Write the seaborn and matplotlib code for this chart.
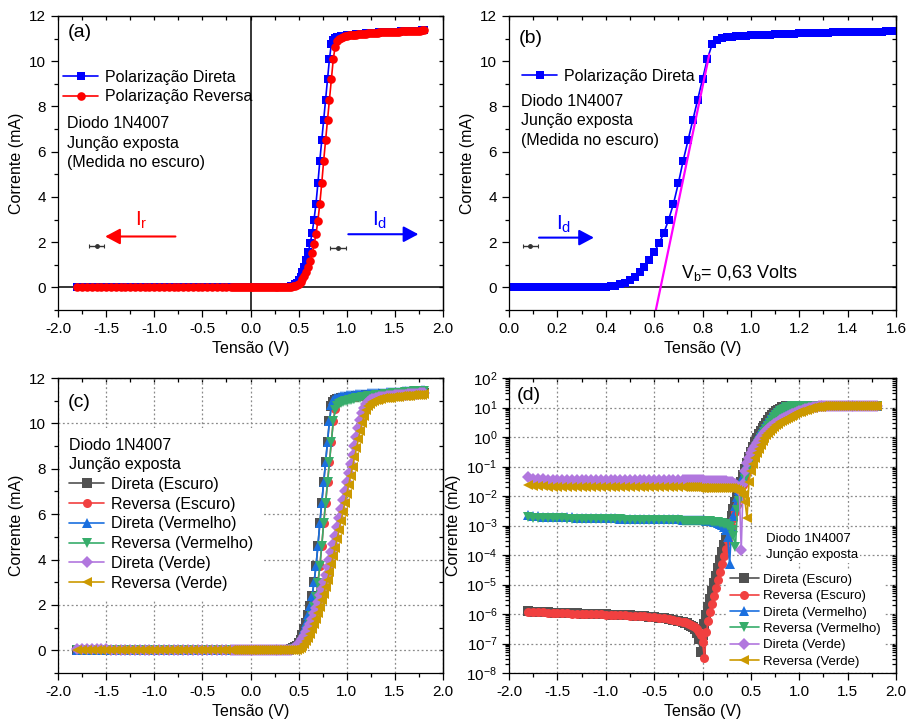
import numpy as np
import pandas as pd
import matplotlib
matplotlib.use("Agg")
import matplotlib.pyplot as plt
from matplotlib.ticker import MultipleLocator, FormatStrFormatter, LogLocator, NullFormatter
import seaborn as sns

# tensão (V) -- mesma varredura para todas as curvas
volts = [
    -1.80, -1.75, -1.70, -1.65, -1.60, -1.55, -1.50, -1.45, -1.40, -1.35,
    -1.30, -1.25, -1.20, -1.15, -1.10, -1.05, -1.00, -0.95, -0.90, -0.85,
    -0.80, -0.75, -0.70, -0.65, -0.60, -0.55, -0.50, -0.45, -0.40, -0.35,
    -0.30, -0.25, -0.20,
    -0.18, -0.16, -0.14, -0.12, -0.10, -0.08, -0.06, -0.04, -0.02, 0.00,
    0.02, 0.04, 0.06, 0.08, 0.10, 0.12, 0.14, 0.16, 0.18, 0.20,
    0.22, 0.24, 0.26, 0.28, 0.30, 0.32, 0.34, 0.36, 0.38, 0.40,
    0.42, 0.44, 0.46, 0.48, 0.50, 0.52, 0.54, 0.56, 0.58, 0.60,
    0.62, 0.64, 0.66, 0.68, 0.70, 0.72, 0.74, 0.76, 0.78, 0.80,
    0.82, 0.84, 0.86, 0.88, 0.90, 0.92, 0.94, 0.96, 0.98, 1.00,
    1.02, 1.04, 1.06, 1.08, 1.10, 1.12, 1.14, 1.16, 1.18, 1.20,
    1.22, 1.24, 1.26, 1.28, 1.30, 1.32, 1.34, 1.36, 1.38, 1.40,
    1.42, 1.44, 1.46, 1.48, 1.50, 1.52, 1.54, 1.56, 1.58, 1.60,
    1.62, 1.64, 1.66, 1.68, 1.70, 1.72, 1.74, 1.76, 1.78, 1.80,
]

# |corrente| (mA)
dir_escuro = [
    1.25e-6, 1.20e-6, 1.18e-6, 1.16e-6, 1.14e-6, 1.12e-6, 1.10e-6, 1.09e-6, 1.07e-6, 1.06e-6,
    1.05e-6, 1.04e-6, 1.02e-6, 1.01e-6, 1.00e-6, 9.9e-7, 9.8e-7, 9.6e-7, 9.5e-7, 9.4e-7,
    9.2e-7, 9.0e-7, 8.8e-7, 8.6e-7, 8.4e-7, 8.1e-7, 7.8e-7, 7.5e-7, 7.2e-7, 6.8e-7,
    6.4e-7, 5.9e-7, 5.4e-7,
    5.1e-7, 4.8e-7, 4.4e-7, 4.0e-7, 3.5e-7, 3.0e-7, 2.3e-7, 1.4e-7, 5.0e-8, 2.0e-7,
    4.5e-7, 9.0e-7, 1.7e-6, 3.2e-6, 6.0e-6, 1.1e-5, 2.0e-5, 3.7e-5, 6.8e-5, 1.25e-4,
    2.2e-4, 3.9e-4, 6.8e-4, 1.2e-3, 2.1e-3, 3.6e-3, 6.2e-3, 0.0105, 0.018, 0.030,
    0.050, 0.083, 0.135, 0.21, 0.32, 0.47, 0.67, 0.92, 1.22, 1.55,
    1.95, 2.40, 3.00, 3.70, 4.60, 5.60, 6.50, 7.40, 8.30, 9.20,
    10.10, 10.75, 10.95, 11.02, 11.06, 11.08, 11.10, 11.11, 11.13, 11.14,
    11.15, 11.16, 11.17, 11.18, 11.19, 11.20, 11.20, 11.21, 11.22, 11.23,
    11.23, 11.24, 11.25, 11.25, 11.26, 11.26, 11.27, 11.27, 11.28, 11.28,
    11.29, 11.29, 11.30, 11.30, 11.31, 11.31, 11.31, 11.32, 11.32, 11.33,
    11.33, 11.33, 11.34, 11.34, 11.34, 11.35, 11.35, 11.35, 11.36, 11.36,
]
rev_escuro = [
    1.20e-6, 1.17e-6, 1.15e-6, 1.13e-6, 1.11e-6, 1.09e-6, 1.08e-6, 1.06e-6, 1.05e-6, 1.04e-6,
    1.03e-6, 1.02e-6, 1.00e-6, 9.9e-7, 9.8e-7, 9.7e-7, 9.6e-7, 9.5e-7, 9.4e-7, 9.3e-7,
    9.1e-7, 8.9e-7, 8.7e-7, 8.5e-7, 8.3e-7, 8.0e-7, 7.7e-7, 7.4e-7, 7.1e-7, 6.8e-7,
    6.4e-7, 5.9e-7, 5.4e-7,
    5.2e-7, 4.9e-7, 4.6e-7, 4.3e-7, 3.9e-7, 3.5e-7, 3.0e-7, 2.5e-7, 1.9e-7, 1.1e-7,
    3.3e-8, 2.4e-7, 6.0e-7, 1.2e-6, 2.2e-6, 4.0e-6, 7.5e-6, 1.4e-5, 2.6e-5, 4.8e-5,
    9.0e-5, 1.6e-4, 2.9e-4, 5.2e-4, 9.0e-4, 1.6e-3, 2.8e-3, 4.8e-3, 8.3e-3, 0.014,
    0.024, 0.040, 0.066, 0.105, 0.16, 0.24, 0.35, 0.50, 0.68, 0.90,
    1.18, 1.50, 1.90, 2.35, 2.95, 3.70, 4.60, 5.60, 6.50, 7.40,
    8.30, 9.20, 10.10, 10.65, 10.88, 10.98, 11.03, 11.07, 11.10, 11.12,
    11.14, 11.15, 11.16, 11.17, 11.18, 11.19, 11.20, 11.20, 11.21, 11.22,
    11.23, 11.24, 11.25, 11.25, 11.26, 11.26, 11.27, 11.27, 11.28, 11.28,
    11.29, 11.29, 11.30, 11.30, 11.31, 11.31, 11.31, 11.32, 11.32, 11.33,
    11.33, 11.33, 11.34, 11.34, 11.34, 11.35, 11.35, 11.35, 11.36, 11.36,
]
dir_vermelho = [
    2.20e-3, 2.10e-3, 2.05e-3, 2.00e-3, 1.98e-3, 1.96e-3, 1.94e-3, 1.92e-3, 1.90e-3, 1.88e-3,
    1.86e-3, 1.84e-3, 1.82e-3, 1.80e-3, 1.79e-3, 1.78e-3, 1.76e-3, 1.75e-3, 1.74e-3, 1.72e-3,
    1.71e-3, 1.70e-3, 1.69e-3, 1.68e-3, 1.67e-3, 1.66e-3, 1.65e-3, 1.64e-3, 1.63e-3, 1.62e-3,
    1.61e-3, 1.60e-3, 1.59e-3,
    1.58e-3, 1.57e-3, 1.57e-3, 1.56e-3, 1.55e-3, 1.54e-3, 1.53e-3, 1.52e-3, 1.51e-3, 1.50e-3,
    1.49e-3, 1.47e-3, 1.45e-3, 1.42e-3, 1.38e-3, 1.33e-3, 1.27e-3, 1.20e-3, 1.12e-3, 1.02e-3,
    8.8e-4, 7.0e-4, 4.2e-4, 5.0e-5, 8.0e-4, 2.1e-3, 4.7e-3, 9.0e-3, 0.0165, 0.0285,
    0.0485, 0.081, 0.133, 0.21, 0.32, 0.47, 0.67, 0.92, 1.22, 1.55,
    1.95, 2.40, 3.00, 3.70, 4.60, 5.60, 6.50, 7.40, 8.30, 9.20,
    10.10, 10.80, 11.02, 11.10, 11.14, 11.17, 11.19, 11.20, 11.22, 11.23,
    11.24, 11.25, 11.26, 11.27, 11.28, 11.29, 11.29, 11.30, 11.31, 11.31,
    11.32, 11.32, 11.33, 11.33, 11.34, 11.34, 11.35, 11.35, 11.36, 11.36,
    11.37, 11.37, 11.38, 11.38, 11.39, 11.39, 11.40, 11.40, 11.41, 11.41,
    11.42, 11.42, 11.43, 11.43, 11.44, 11.44, 11.45, 11.45, 11.46, 11.46,
]
rev_vermelho = [
    1.90e-3, 1.85e-3, 1.82e-3, 1.80e-3, 1.78e-3, 1.76e-3, 1.75e-3, 1.73e-3, 1.72e-3, 1.70e-3,
    1.69e-3, 1.68e-3, 1.67e-3, 1.66e-3, 1.65e-3, 1.64e-3, 1.63e-3, 1.62e-3, 1.61e-3, 1.60e-3,
    1.59e-3, 1.58e-3, 1.57e-3, 1.56e-3, 1.55e-3, 1.54e-3, 1.53e-3, 1.52e-3, 1.51e-3, 1.50e-3,
    1.49e-3, 1.48e-3, 1.47e-3,
    1.46e-3, 1.46e-3, 1.45e-3, 1.45e-3, 1.44e-3, 1.44e-3, 1.43e-3, 1.42e-3, 1.42e-3, 1.41e-3,
    1.40e-3, 1.39e-3, 1.38e-3, 1.37e-3, 1.35e-3, 1.33e-3, 1.31e-3, 1.28e-3, 1.25e-3, 1.21e-3,
    1.16e-3, 1.09e-3, 1.00e-3, 8.8e-4, 7.2e-4, 4.5e-4, 1.8e-4, 3.4e-3, 6.9e-3, 0.0127,
    0.0227, 0.0387, 0.065, 0.104, 0.16, 0.24, 0.35, 0.50, 0.68, 0.90,
    1.18, 1.50, 1.90, 2.35, 2.95, 3.70, 4.60, 5.60, 6.50, 7.40,
    8.30, 9.20, 10.10, 10.60, 10.75, 10.85, 10.90, 10.94, 10.97, 11.00,
    11.02, 11.04, 11.06, 11.08, 11.10, 11.12, 11.14, 11.15, 11.17, 11.18,
    11.19, 11.20, 11.21, 11.22, 11.23, 11.24, 11.25, 11.26, 11.27, 11.28,
    11.29, 11.30, 11.31, 11.32, 11.33, 11.34, 11.34, 11.35, 11.36, 11.37,
    11.38, 11.38, 11.39, 11.40, 11.41, 11.41, 11.42, 11.43, 11.43, 11.44,
]
dir_verde = [
    0.043, 0.039, 0.037, 0.0365, 0.036, 0.036, 0.0358, 0.0356, 0.0355, 0.0354,
    0.0353, 0.0352, 0.0351, 0.0350, 0.0350, 0.0349, 0.0348, 0.0348, 0.0347, 0.0347,
    0.0346, 0.0346, 0.0345, 0.0345, 0.0344, 0.0344, 0.0343, 0.0343, 0.0342, 0.0342,
    0.0341, 0.0341, 0.0340,
    0.0340, 0.0340, 0.0340, 0.0339, 0.0339, 0.0338, 0.0338, 0.0337, 0.0337, 0.0336,
    0.0335, 0.0335, 0.0334, 0.0333, 0.0332, 0.0331, 0.0330, 0.0328, 0.0326, 0.0323,
    0.0320, 0.0315, 0.0310, 0.0302, 0.0290, 0.0275, 0.0252, 0.0220, 0.0165, 1.5e-4,
    0.025, 0.070, 0.130, 0.20, 0.29, 0.39, 0.50, 0.64, 0.80, 0.98,
    1.18, 1.40, 1.63, 1.88, 2.15, 2.43, 2.72, 3.02, 3.33, 3.65,
    3.98, 4.32, 4.68, 5.05, 5.43, 5.82, 6.22, 6.62, 7.02, 7.42,
    7.82, 8.22, 8.62, 9.02, 9.42, 9.80, 10.15, 10.45, 10.70, 10.86,
    10.96, 11.02, 11.06, 11.09, 11.11, 11.13, 11.15, 11.16, 11.17, 11.18,
    11.19, 11.20, 11.21, 11.22, 11.23, 11.24, 11.25, 11.25, 11.26, 11.27,
    11.27, 11.28, 11.29, 11.29, 11.30, 11.30, 11.31, 11.32, 11.32, 11.33,
]
rev_verde = [
    0.0235, 0.0220, 0.0215, 0.0212, 0.0210, 0.0209, 0.0208, 0.0207, 0.0206, 0.0206,
    0.0205, 0.0205, 0.0204, 0.0204, 0.0203, 0.0203, 0.0202, 0.0202, 0.0201, 0.0201,
    0.0200, 0.0200, 0.0200, 0.0199, 0.0199, 0.0199, 0.0198, 0.0198, 0.0198, 0.0197,
    0.0197, 0.0197, 0.0196,
    0.0196, 0.0196, 0.0196, 0.0195, 0.0195, 0.0195, 0.0195, 0.0194, 0.0194, 0.0194,
    0.0194, 0.0193, 0.0193, 0.0193, 0.0192, 0.0192, 0.0191, 0.0191, 0.0190, 0.0189,
    0.0188, 0.0187, 0.0185, 0.0183, 0.0180, 0.0176, 0.0170, 0.0162, 0.0150, 0.0133,
    0.0105, 0.0062, 1.8e-3, 0.030, 0.070, 0.12, 0.19, 0.28, 0.40, 0.55,
    0.72, 0.92, 1.14, 1.38, 1.64, 1.92, 2.20, 2.50, 2.80, 3.12,
    3.45, 3.80, 4.16, 4.53, 4.91, 5.30, 5.70, 6.10, 6.50, 6.90,
    7.30, 7.70, 8.10, 8.50, 8.90, 9.30, 9.68, 10.02, 10.32, 10.57,
    10.75, 10.87, 10.95, 11.00, 11.03, 11.05, 11.07, 11.09, 11.10, 11.11,
    11.12, 11.13, 11.14, 11.15, 11.16, 11.17, 11.18, 11.19, 11.20, 11.20,
    11.21, 11.22, 11.22, 11.23, 11.24, 11.24, 11.25, 11.26, 11.27, 11.28,
]

curve_names = ["Direta (Escuro)", "Reversa (Escuro)", "Direta (Vermelho)",
               "Reversa (Vermelho)", "Direta (Verde)", "Reversa (Verde)"]
curve_colors = ["#515151", "#F14040", "#1A6FDF", "#37AD6B", "#B177DE", "#CC9900"]
curve_markers = ["s", "o", "^", "v", "D", "<"]

# reta de ajuste para V_b (painel b)
fit_v = [0.607, 0.828]
fit_i = [-1.0, 10.3]

# pequenas barras de erro desenhadas nos paineis (a) e (b)
err_a_v = [-1.60, 0.91]
err_a_i = [1.85, 1.76]
err_b_v = [0.087]
err_b_i = [1.81]

series = [dir_escuro, rev_escuro, dir_vermelho, rev_vermelho, dir_verde, rev_verde]
for s in series:
    assert len(s) == len(volts), len(s)

df = pd.DataFrame({
    "V": np.tile(volts, len(series)),
    "I": np.concatenate(series),
    "curva": np.repeat(curve_names, len(volts)),
})

sns.set_theme(style="ticks")
plt.rcParams["font.family"] = ["Liberation Sans", "DejaVu Sans"]
plt.rcParams["mathtext.fontset"] = "custom"
plt.rcParams["mathtext.rm"] = "Liberation Sans"
plt.rcParams["mathtext.it"] = "Liberation Sans"
plt.rcParams["axes.unicode_minus"] = False
plt.rcParams["axes.edgecolor"] = "black"
plt.rcParams["axes.linewidth"] = 0.9
plt.rcParams["text.color"] = "black"
plt.rcParams["axes.labelcolor"] = "black"
plt.rcParams["xtick.color"] = "black"
plt.rcParams["ytick.color"] = "black"

fig = plt.figure(figsize=(9.08, 7.26), dpi=100)
ax_a = fig.add_axes([0.0639, 0.573, 0.424, 0.405])
ax_b = fig.add_axes([0.5606, 0.573, 0.4262, 0.405])
ax_c = fig.add_axes([0.0639, 0.073, 0.424, 0.4063])
ax_d = fig.add_axes([0.5606, 0.073, 0.4262, 0.4063])


def frame(ax, xlim, xstep, xminor, log=False):
    ax.set_xlim(*xlim)
    ax.xaxis.set_major_locator(MultipleLocator(xstep))
    ax.xaxis.set_minor_locator(MultipleLocator(xminor))
    ax.xaxis.set_major_formatter(FormatStrFormatter("%.1f"))
    if log:
        ax.set_yscale("log")
        ax.set_ylim(1e-8, 1e2)
        ax.yaxis.set_major_locator(LogLocator(base=10, numticks=20))
        ax.yaxis.set_minor_locator(LogLocator(base=10, subs=np.arange(2, 10), numticks=20))
        ax.yaxis.set_minor_formatter(NullFormatter())
    else:
        ax.set_ylim(-1, 12)
        ax.yaxis.set_major_locator(MultipleLocator(2))
        ax.yaxis.set_minor_locator(MultipleLocator(1))
    ax.tick_params(which="both", direction="out", labelsize=11, width=0.9)
    ax.tick_params(which="major", length=5)
    ax.tick_params(which="minor", length=3)
    top = ax.secondary_xaxis("top")
    top.xaxis.set_major_locator(MultipleLocator(xstep))
    top.xaxis.set_minor_locator(MultipleLocator(xminor))
    top.tick_params(which="both", direction="in", length=3, width=0.9, labeltop=False)
    right = ax.secondary_yaxis("right")
    if log:
        right.yaxis.set_major_locator(LogLocator(base=10, numticks=20))
        right.yaxis.set_minor_locator(LogLocator(base=10, subs=np.arange(2, 10), numticks=20))
    else:
        right.yaxis.set_major_locator(MultipleLocator(2))
        right.yaxis.set_minor_locator(MultipleLocator(1))
    right.tick_params(which="both", direction="in", length=3, width=0.9, labelright=False)
    ax.set_xlabel("Tensão (V)", fontsize=11.5)
    ax.set_ylabel("Corrente (mA)", fontsize=11.5)


def errmark(ax, v, i, half):
    ax.errorbar(v, i, xerr=half, fmt="o", ms=2.5, color="#333333",
                elinewidth=1.0, capsize=1.5, capthick=0.8, zorder=4)


def arrow(ax, tail, tip, color):
    ax.annotate("", xy=tip, xytext=tail,
                arrowprops=dict(arrowstyle="-|>,head_length=0.6,head_width=0.32",
                                color=color, lw=1.5, mutation_scale=15,
                                shrinkA=0, shrinkB=0))


# (a) ------------------------------------------------------------
ax = ax_a
ax.axhline(0, color="black", lw=1.1, zorder=1)
ax.axvline(0, color="black", lw=1.1, zorder=1)
sns.lineplot(x=volts, y=dir_escuro, ax=ax, color="#0000FF", marker="s", markersize=5.4,
             markeredgewidth=0, linewidth=1.2, sort=False, estimator=None)
sns.lineplot(x=volts, y=rev_escuro, ax=ax, color="#FF0000", marker="o", markersize=6.2,
             markeredgewidth=0, linewidth=1.2, sort=False, estimator=None)
frame(ax, (-2, 2), 0.5, 0.25)
ax.legend(ax.lines[-2:], ["Polarização Direta", "Polarização Reversa"],
          loc="upper left", bbox_to_anchor=(0.013, 0.817), frameon=False, fontsize=11.5,
          borderpad=0, borderaxespad=0, handlelength=2.2, handletextpad=0.4,
          labelspacing=0.29)
ax.text(0.026, 0.972, "(a)", transform=ax.transAxes, fontsize=14, va="top")
ax.text(0.023, 0.659, "Diodo 1N4007\nJunção exposta\n(Medida no escuro)",
        transform=ax.transAxes, fontsize=11.5, va="top", linespacing=1.36)
arrow(ax, (-0.78, 2.25), (-1.51, 2.25), "#FF0000")
arrow(ax, (1.016, 2.35), (1.744, 2.35), "#0000FF")
ax.text(-1.13, 2.95, r"$\mathregular{I_r}$", color="#FF0000", fontsize=15, ha="center", va="center")
ax.text(1.346, 2.95, r"$\mathregular{I_d}$", color="#0000FF", fontsize=15, ha="center", va="center")
errmark(ax, err_a_v, err_a_i, 0.08)

# (b) ------------------------------------------------------------
ax = ax_b
ax.axhline(0, color="black", lw=1.1, zorder=1)
sns.lineplot(x=volts, y=dir_escuro, ax=ax, color="#0000FF", marker="s", markersize=5.8,
             markeredgewidth=0, linewidth=1.2, sort=False, estimator=None)
blue_b = ax.lines[-1]
sns.lineplot(x=fit_v, y=fit_i, ax=ax, color="#FF00FF", linewidth=1.6, sort=False, estimator=None)
frame(ax, (0, 1.6), 0.2, 0.1)
ax.legend([blue_b], ["Polarização Direta"], loc="upper left", bbox_to_anchor=(0.034, 0.82),
          frameon=False, fontsize=11.5, borderpad=0, borderaxespad=0,
          handlelength=2.2, handletextpad=0.4)
ax.text(0.026, 0.952, "(b)", transform=ax.transAxes, fontsize=14, va="top")
ax.text(0.03, 0.735, "Diodo 1N4007\nJunção exposta\n(Medida no escuro)",
        transform=ax.transAxes, fontsize=11.5, va="top", linespacing=1.36)
arrow(ax, (0.124, 2.2), (0.351, 2.2), "#0000FF")
ax.text(0.225, 2.8, r"$\mathregular{I_d}$", color="#0000FF", fontsize=15, ha="center", va="center")
ax.text(0.71, 0.42, r"$\mathregular{V_b}$= 0,63 Volts", fontsize=13, va="baseline")
errmark(ax, err_b_v, err_b_i, 0.031)

# (c) e (d) -------------------------------------------------------
for ax, log in [(ax_c, False), (ax_d, True)]:
    ax.set_axisbelow(True)
    ax.grid(True, which="major", color="#8a8a8a", linestyle=(0, (1.5, 2.0)), linewidth=0.9)
    sns.lineplot(data=df, x="V", y="I", hue="curva", style="curva", palette=curve_colors,
                 markers=curve_markers, dashes=False, markersize=6.5, markeredgewidth=0,
                 linewidth=1.2, sort=False, estimator=None, ax=ax, legend=False)
    frame(ax, (-2, 2), 0.5, 0.25, log=log)

ax = ax_c
leg = ax.legend(ax.lines[:6], curve_names, loc="upper left", bbox_to_anchor=(0.004, 0.83),
                title="Diodo 1N4007\nJunção exposta", title_fontsize=11.5, fontsize=11.5,
                frameon=True, facecolor="white", edgecolor="none", framealpha=1,
                fancybox=False, borderpad=0.6, borderaxespad=0, handlelength=2.2,
                handletextpad=0.4, labelspacing=0.3, alignment="left")
leg.get_title().set_linespacing(1.36)
ax.text(0.026, 0.945, "(c)", transform=ax.transAxes, fontsize=14, va="top")

ax = ax_d
ax.legend(ax.lines[:6], curve_names, loc="lower right", bbox_to_anchor=(0.97, 0.005),
          fontsize=9.5, frameon=True, facecolor="white", edgecolor="none", framealpha=1,
          fancybox=False, borderpad=0.3, borderaxespad=0, handlelength=2.2,
          handletextpad=0.3, labelspacing=0.31)
ax.text(0.663, 0.473, "Diodo 1N4007\nJunção exposta", transform=ax.transAxes, fontsize=9.5,
        va="top", zorder=6, linespacing=1.37,
        bbox=dict(facecolor="white", edgecolor="none", pad=1.5))
ax.text(0.021, 0.97, "(d)", transform=ax.transAxes, fontsize=14, va="top")

fig.savefig("out.png", dpi=100)
plt.close(fig)
